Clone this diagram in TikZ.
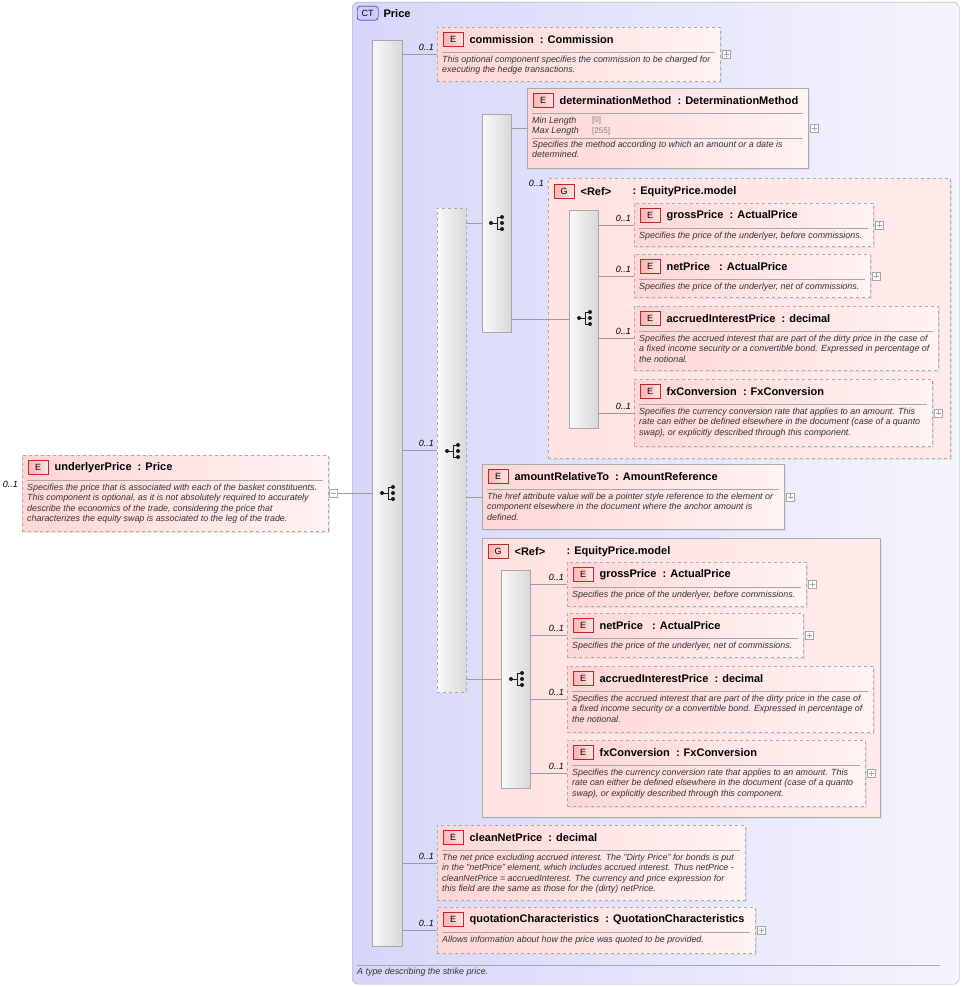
\documentclass[tikz,border=0pt]{standalone}
\usepackage{fontspec}
\setmainfont{Liberation Sans}
\usetikzlibrary{positioning,shadows}

\definecolor{ctfill}{RGB}{214,214,250}
\definecolor{efill}{RGB}{255,214,214}
\definecolor{eline}{RGB}{170,170,170}
\definecolor{bline}{RGB}{190,40,40}

\tikzset{
  elem/.style={draw=eline, anchor=north west, left color=efill, right color=efill!30,
    drop shadow={shadow xshift=2pt, shadow yshift=-2pt, fill=gray!35}},
  opt/.style={elem, dashed},
  grp/.style={elem, left color=efill!70, right color=efill!50},
  bar/.style={draw=gray!70, anchor=north west, left color=gray!5, right color=gray!30},
  badge/.style={draw=bline, anchor=north west, left color=red!30, right color=red!10,
    minimum width=20pt, minimum height=14pt, inner sep=0pt, font=\fontsize{9}{10}\selectfont},
  etitle/.style={inner sep=0pt, font=\fontsize{11}{12}\selectfont\bfseries},
  edesc/.style={anchor=north west, inner sep=0pt, align=left, text=black!80,
    font=\fontsize{8.9}{10.2}\selectfont\itshape},
  occ/.style={anchor=south east, inner sep=0pt, font=\fontsize{9}{10}\selectfont\itshape},
  sepline/.style={draw=gray!70},
  conn/.style={draw=gray!80},
  boxsym/.style={draw=gray!70, fill=white, minimum size=8pt, inner sep=0pt},
}

% element box: name, style, x, y, w, h, title, description
\newcommand\elembox[8]{%
  \node[#2, minimum width=#5pt, minimum height=#6pt] (#1) at (#3,#4) {};
  \node[badge] (#1-b) at ([xshift=6pt,yshift=-5pt]#1.north west) {E};
  \node[etitle, right=6pt of #1-b] {#7};
  \draw[sepline] ([xshift=5pt,yshift=-25pt]#1.north west) -- ([xshift=-5pt,yshift=-25pt]#1.north east);
  \node[edesc] at ([xshift=5pt,yshift=-29pt]#1.north west) {#8};
}
% plus symbol right of a box
\newcommand\plusof[1]{%
  \node[boxsym, right=2pt of #1] (#1-p) {};
  \draw[gray!70] ([xshift=1.5pt]#1-p.west) -- ([xshift=-1.5pt]#1-p.east)
    ([yshift=-1.5pt]#1-p.north) -- ([yshift=1.5pt]#1-p.south);
}
% sequence icon
\newcommand\seqicon[1]{%
  \begin{scope}[shift={(#1)}, gray!20!black]
    \fill (-6,0) circle (2pt);
    \draw[line width=0.8pt] (-6,0) -- (0,0) (0,-6) -- (0,6) (0,-6) -- (5,-6) (0,6) -- (5,6);
    \fill (5,-6) circle (2pt) (5,0) circle (2pt) (5,6) circle (2pt);
  \end{scope}
}
% group box: name, style, x, y, w, h
\newcommand\grpbox[6]{%
  \node[#2, minimum width=#5pt, minimum height=#6pt] (#1) at (#3,#4) {};
  \node[badge] (#1-b) at ([xshift=6pt,yshift=-6pt]#1.north west) {G};
  \node[etitle, right=6pt of #1-b] {<Ref>};
  \node[etitle, right=58pt of #1-b] {: EquityPrice.model};
}

\begin{document}
\begin{tikzpicture}[x=1pt, y=-1pt]
  \useasboundingbox (0,0) rectangle (963,987);
  % complex type
  \node[draw=gray!70, rounded corners=6pt, anchor=north west, left color=ctfill, right color=ctfill!25,
    minimum width=607pt, minimum height=982pt] (ct) at (352,2) {};
  \node[draw=blue!40!black, rounded corners=3pt, fill=blue!20, anchor=north west, minimum width=21pt,
    minimum height=14pt, inner sep=0pt, font=\fontsize{9}{10}\selectfont] (ct-b) at (357,6) {CT};
  \node[etitle, right=5pt of ct-b] {Price};
  \draw[sepline] (357,965) -- (940,965);
  \node[edesc] at (357,968) {A type describing the strike price.};

  % sequence and choice bars
  \node[bar, minimum width=30pt, minimum height=906pt] (seq) at (372,40) {};
  \node[bar, dashed, minimum width=29pt, minimum height=484pt] (ch) at (437,208) {};
  \node[bar, minimum width=29pt, minimum height=218pt] (iseq) at (482,114) {};
  \seqicon{388,493}
  \seqicon{453,451}
  \seqicon{497,223}

  % underlyerPrice
  \elembox{up}{opt}{22}{455}{306}{76}{underlyerPrice\ \ : Price}{Specifies the price that is associated with each of the basket constituents.\\This component is optional, as it is not absolutely required to accurately\\describe the economics of the trade, considering the price that\\characterizes the equity swap is associated to the leg of the trade.}
  \node[occ] at (18,488) {0..1};
  \node[boxsym, right=1pt of up] (upm) {};
  \draw[gray!70] ([xshift=1.5pt]upm.west) -- ([xshift=-1.5pt]upm.east);
  \draw[conn] (upm.east) -- (seq.west |- upm);

  % commission
  \elembox{comm}{opt}{437}{27}{283}{54}{commission\ \ : Commission}{This optional component specifies the commission to be charged for\\executing the hedge transactions.}
  \plusof{comm}
  \node[occ] at ([xshift=-3pt,yshift=3pt]comm.west) {0..1};
  \draw[conn] (seq.east |- comm.west) -- (comm.west);

  % choice
  \node[occ] at ([xshift=-3pt,yshift=3pt]ch.west) {0..1};
  \draw[conn] (seq.east |- ch.west) -- (ch.west);
  \draw[conn] (ch.east |- iseq.west) -- (iseq.west);

  % determinationMethod
  \node[elem, minimum width=281pt, minimum height=80pt] (det) at (527,88) {};
  \node[badge] (det-b) at ([xshift=6pt,yshift=-5pt]det.north west) {E};
  \node[etitle, right=6pt of det-b] {determinationMethod\ \ : DeterminationMethod};
  \draw[sepline] ([xshift=5pt,yshift=-25pt]det.north west) -- ([xshift=-5pt,yshift=-25pt]det.north east);
  \node[edesc] at ([xshift=5pt,yshift=-29pt]det.north west) {Min Length\\Max Length};
  \node[edesc, text=gray, font=\fontsize{8}{10.2}\selectfont] at ([xshift=65pt,yshift=-29pt]det.north west) {[0]\\{}[255]};
  \draw[sepline] ([xshift=5pt,yshift=-50pt]det.north west) -- ([xshift=-5pt,yshift=-50pt]det.north east);
  \node[edesc] at ([xshift=5pt,yshift=-53pt]det.north west) {Specifies the method according to which an amount or a date is\\determined.};
  \plusof{det}
  \draw[conn] (iseq.east |- det.west) -- (det.west);

  % first group
  \grpbox{ga}{grp, dashed}{548}{178}{402}{280}
  \node[occ] at (544,187) {0..1};
  \node[bar, minimum width=29pt, minimum height=218pt] (gaseq) at (569,210) {};
  \seqicon{585,318}
  \draw[conn] (iseq.east |- gaseq.west) -- (gaseq.west);
  \elembox{gagross}{opt}{634}{203}{239}{43}{grossPrice\ \ : ActualPrice}{Specifies the price of the underlyer, before commissions.}
  \elembox{ganet}{opt}{634}{254}{236}{43}{netPrice\ \ \ : ActualPrice}{Specifies the price of the underlyer, net of commissions.}
  \elembox{gaacc}{opt}{634}{306}{304}{64}{accruedInterestPrice\ \ : decimal}{Specifies the accrued interest that are part of the dirty price in the case of\\a fixed income security or a convertible bond. Expressed in percentage of\\the notional.}
  \elembox{gafx}{opt}{634}{379}{298}{67}{fxConversion\ \ : FxConversion}{Specifies the currency conversion rate that applies to an amount. This\\rate can either be defined elsewhere in the document (case of a quanto\\swap), or explicitly described through this component.}
  \foreach \e in {gagross,ganet,gaacc,gafx}{
    \node[occ] at ([xshift=-3pt,yshift=3pt]\e.west) {0..1};
    \draw[conn] (gaseq.east |- \e.west) -- (\e.west);
  }
  \plusof{gagross}
  \plusof{ganet}
  \plusof{gafx}

  % amountRelativeTo
  \elembox{amt}{elem}{482}{464}{302}{65}{amountRelativeTo\ \ : AmountReference}{The href attribute value will be a pointer style reference to the element or\\component elsewhere in the document where the anchor amount is\\defined.}
  \plusof{amt}
  \draw[conn] (ch.east |- amt.west) -- (amt.west);

  % second group
  \grpbox{gb}{grp}{482}{538}{398}{279}
  \node[bar, minimum width=29pt, minimum height=218pt] (gbseq) at (501,570) {};
  \seqicon{517,679}
  \draw[conn] (ch.east |- gbseq.west) -- (gbseq.west);
  \elembox{gbgross}{opt}{567}{562}{239}{44}{grossPrice\ \ : ActualPrice}{Specifies the price of the underlyer, before commissions.}
  \elembox{gbnet}{opt}{567}{613}{236}{44}{netPrice\ \ \ : ActualPrice}{Specifies the price of the underlyer, net of commissions.}
  \elembox{gbacc}{opt}{567}{666}{306}{66}{accruedInterestPrice\ \ : decimal}{Specifies the accrued interest that are part of the dirty price in the case of\\a fixed income security or a convertible bond. Expressed in percentage of\\the notional.}
  \elembox{gbfx}{opt}{567}{740}{298}{66}{fxConversion\ \ : FxConversion}{Specifies the currency conversion rate that applies to an amount. This\\rate can either be defined elsewhere in the document (case of a quanto\\swap), or explicitly described through this component.}
  \foreach \e in {gbgross,gbnet,gbacc,gbfx}{
    \node[occ] at ([xshift=-3pt,yshift=3pt]\e.west) {0..1};
    \draw[conn] (gbseq.east |- \e.west) -- (\e.west);
  }
  \plusof{gbgross}
  \plusof{gbnet}
  \plusof{gbfx}

  % cleanNetPrice, quotationCharacteristics
  \elembox{clean}{opt}{437}{825}{308}{75}{cleanNetPrice\ \ : decimal}{The net price excluding accrued interest. The "Dirty Price" for bonds is put\\in the "netPrice" element, which includes accrued interest. Thus netPrice -\\cleanNetPrice = accruedInterest. The currency and price expression for\\this field are the same as those for the (dirty) netPrice.}
  \elembox{quot}{opt}{437}{907}{318}{46}{quotationCharacteristics\ \ : QuotationCharacteristics}{Allows information about how the price was quoted to be provided.}
  \plusof{quot}
  \foreach \e in {clean,quot}{
    \node[occ] at ([xshift=-3pt,yshift=3pt]\e.west) {0..1};
    \draw[conn] (seq.east |- \e.west) -- (\e.west);
  }
\end{tikzpicture}
\end{document}
